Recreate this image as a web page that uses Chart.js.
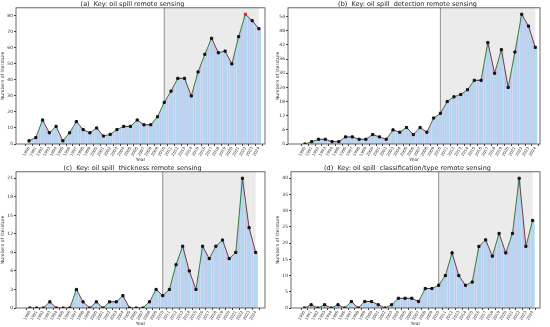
<html>
<head>
<style>
  body { margin: 0; background: #fff; }
  canvas { position: absolute; }
</style>
</head>
<body>
<script src="https://cdn.jsdelivr.net/npm/chart.js@4.4.0/dist/chart.umd.min.js"></script>
<canvas id="c1" width="275" height="163" style="left:0;top:0"></canvas>
<canvas id="c2" width="275" height="163" style="left:275px;top:0"></canvas>
<canvas id="c3" width="275" height="164" style="left:0;top:163px"></canvas>
<canvas id="c4" width="275" height="164" style="left:275px;top:163px"></canvas>
<script>
// years on the x axis
var years = [1990,1991,1992,1993,1994,1995,1996,1997,1998,1999,2000,2001,2002,2003,2004,2005,2006,2007,
             2008,2009,2010,2011,2012,2013,2014,2015,2016,2017,2018,2019,2020,2021,2022,2023,2024];

// number of papers per year, one list per keyword
var remoteSensing  = [2,4,15,7,11,2,7,14,9,7,10,5,6,9,11,11,15,12,12,17,26,33,41,41,30,45,56,66,57,58,50,67,81,77,72];
var detection      = [0,1,2,2,1,1,3,3,2,2,4,3,2,6,5,7,4,7,5,11,13,18,20,21,23,27,27,43,30,40,24,39,55,50,41];
var thickness      = [0,0,0,1,0,0,0,3,1,0,1,0,1,1,2,0,0,0,1,3,2,3,7,10,6,3,10,8,10,11,8,9,21,13,9];
var classification = [0,1,0,1,0,1,0,2,0,2,2,1,0,1,3,3,3,2,6,6,7,10,17,10,7,8,19,21,16,23,17,23,40,19,27];

// highlighted period
var shadeFrom = 2010, shadeTo = 2024;

var FONT = 'DejaVu Sans';

// grey box behind the recent years + frame round the plot
var shadePlugin = {
  id: 'shade',
  beforeDatasetsDraw: function(chart) {
    var ctx = chart.ctx, a = chart.chartArea, x = chart.scales.x;
    var x0 = x.getPixelForValue(shadeFrom), x1 = x.getPixelForValue(shadeTo);
    ctx.save();
    ctx.fillStyle = '#ebebeb';
    ctx.fillRect(x0, a.top, x1 - x0, a.bottom - a.top);
    ctx.strokeStyle = '#777';
    ctx.lineWidth = 0.8;
    ctx.beginPath();
    ctx.moveTo(x0, a.top);
    ctx.lineTo(x0, a.bottom);
    ctx.stroke();
    ctx.restore();
  },
  afterDraw: function(chart) {
    var ctx = chart.ctx, a = chart.chartArea;
    ctx.save();
    ctx.strokeStyle = '#444';
    ctx.lineWidth = 0.8;
    ctx.strokeRect(a.left, a.top, a.right - a.left, a.bottom - a.top);
    ctx.restore();
  }
};

function makeChart(id, title, vals, step, xmin, xmax, yWidth, topPad, redMax) {
  var pts = years.map(function(y, i) { return {x: y, y: vals[i]}; });
  var maxV = Math.max.apply(null, vals);
  var pointColors = vals.map(function(v) { return (redMax && v === maxV) ? '#d62728' : '#111'; });

  new Chart(document.getElementById(id), {
    type: 'bar',
    data: {
      datasets: [
        {
          type: 'line', data: pts, order: 3,
          borderWidth: 0, pointRadius: 0, fill: 'origin',
          backgroundColor: '#c5c6ee'
        },
        {
          type: 'bar', data: pts, order: 2,
          backgroundColor: '#b3d7ee', borderColor: '#ffffff', borderWidth: 0.5,
          barPercentage: 1.0, categoryPercentage: 0.78
        },
        {
          type: 'line', data: pts, order: 1,
          borderWidth: 1, fill: false, tension: 0,
          pointStyle: 'rect', pointRadius: 1.5,
          pointBackgroundColor: pointColors, pointBorderColor: pointColors,
          segment: {
            borderColor: function(c) {
              if (c.p1.parsed.y > c.p0.parsed.y) return '#3a7a3a';
              if (c.p1.parsed.y < c.p0.parsed.y) return '#7a3a3a';
              return '#333';
            }
          }
        }
      ]
    },
    options: {
      responsive: false,
      animation: false,
      layout: { padding: { top: topPad, right: 10, left: 0, bottom: 0 } },
      plugins: {
        legend: { display: false },
        tooltip: { enabled: false },
        title: {
          display: true, text: title, color: '#222',
          font: { family: FONT, size: 6.5, weight: 'normal' },
          padding: { top: 0, bottom: 0 }
        }
      },
      scales: {
        x: {
          type: 'linear', min: xmin, max: xmax, offset: false,
          afterBuildTicks: function(s) { s.ticks = years.map(function(v) { return {value: v}; }); },
          afterFit: function(s) { s.height = 19; },
          grid: { drawOnChartArea: false, tickLength: 2, color: '#444' },
          border: { display: false },
          ticks: {
            autoSkip: false, maxRotation: 60, minRotation: 60, padding: 0,
            color: '#333', font: { family: FONT, size: 4 },
            callback: function(v) { return String(v); }
          },
          title: { display: true, text: 'Year', color: '#333', padding: 0, font: { family: FONT, size: 4.5 } }
        },
        y: {
          min: 0, max: maxV * 1.05,
          afterBuildTicks: function(s) {
            var t = [];
            for (var v = 0; v <= maxV * 1.05; v += step) t.push({value: v});
            s.ticks = t;
          },
          afterFit: function(s) { s.width = yWidth; },
          grid: { drawOnChartArea: false, tickLength: 2, color: '#444' },
          border: { display: false },
          ticks: {
            padding: 1, color: '#333', font: { family: FONT, size: 4.5 },
            callback: function(v) { return String(v); }
          },
          title: { display: true, text: 'Numbers of literature', color: '#333', padding: 0, font: { family: FONT, size: 4.5 } }
        }
      }
    },
    plugins: [shadePlugin]
  });
}

makeChart('c1', '(a)  Key: oil spill remote sensing', remoteSensing, 10, 1988.07, 2024.9, 16, 0, true);
makeChart('c2', '(b)  Key: oil spill  detection remote sensing', detection, 6, 1987.5, 2024.7, 13, 0, false);
makeChart('c3', '(c)  Key: oil spill  thickness remote sensing', thickness, 3, 1987.9, 2025.4, 16, 1, false);
makeChart('c4', '(d)  Key: oil spill  classification/type remote sensing', classification, 5, 1988.0, 2025.1, 16, 1, false);
</script>
</body>
</html>
